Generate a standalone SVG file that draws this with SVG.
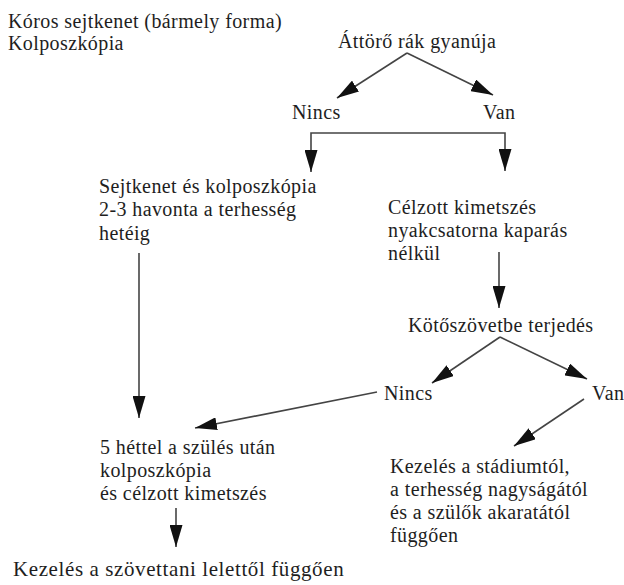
<svg xmlns="http://www.w3.org/2000/svg" width="624" height="585" viewBox="0 0 624 585">
<style>
text{font-family:'Liberation Serif',serif;font-size:20px;fill:#1e1e1e;letter-spacing:0.4px}
.c{fill:none;stroke:#444;stroke-width:1.6}
</style>
<defs>
<marker id="ah" markerUnits="userSpaceOnUse" markerWidth="24" markerHeight="13" refX="22" refY="6.5" orient="auto-start-reverse">
<path d="M0,0 L22,6.5 L0,13 z" fill="#111"/>
</marker>
</defs>
<rect width="624" height="585" fill="#fff"/>
<g id="connectors">
<path class="c" d="M407,53 L337,98" marker-end="url(#ah)"/>
<path class="c" d="M407,53 L493,95" marker-end="url(#ah)"/>
<path class="c" d="M311,172 L311,133 L505,133 L505,171" marker-start="url(#ah)" marker-end="url(#ah)"/>
<path class="c" d="M139,253 L139,418" marker-end="url(#ah)"/>
<path class="c" d="M499,252 L499,308" marker-end="url(#ah)"/>
<path class="c" d="M500,337 L432,383" marker-end="url(#ah)"/>
<path class="c" d="M500,337 L587,379" marker-end="url(#ah)"/>
<path class="c" d="M377,392 L195,428" marker-end="url(#ah)"/>
<path class="c" d="M584,399 L514,446" marker-end="url(#ah)"/>
<path class="c" d="M176,508 L176,547" marker-end="url(#ah)"/>
</g>
<g id="title">
<text x="8" y="28">Kóros sejtkenet (bármely forma)</text>
<text x="8" y="50">Kolposzkópia</text>
</g>
<g id="suspicion"><text x="338" y="48">Áttörő rák gyanúja</text></g>
<g id="no1"><text x="292" y="119">Nincs</text></g>
<g id="yes1"><text x="483" y="119">Van</text></g>
<g id="followup">
<text x="99" y="193">Sejtkenet és kolposzkópia</text>
<text x="99" y="216">2-3 havonta a terhesség</text>
<text x="99" y="240">hetéig</text>
</g>
<g id="excision">
<text x="388" y="214">Célzott kimetszés</text>
<text x="388" y="237">nyakcsatorna kaparás</text>
<text x="388" y="260">nélkül</text>
</g>
<g id="spread"><text x="408" y="332">Kötőszövetbe terjedés</text></g>
<g id="no2"><text x="384" y="400">Nincs</text></g>
<g id="yes2"><text x="592" y="400">Van</text></g>
<g id="postpartum">
<text x="100" y="454">5 héttel a szülés után</text>
<text x="100" y="477">kolposzkópia</text>
<text x="100" y="500">és célzott kimetszés</text>
</g>
<g id="treatment-stage">
<text x="390" y="473">Kezelés a stádiumtól,</text>
<text x="390" y="496">a terhesség nagyságától</text>
<text x="390" y="519">és a szülők akaratától</text>
<text x="390" y="542">függően</text>
</g>
<g id="treatment-histology"><text x="13" y="576" style="font-size:21px;letter-spacing:0.6px">Kezelés a szövettani lelettől függően</text></g>
</svg>
